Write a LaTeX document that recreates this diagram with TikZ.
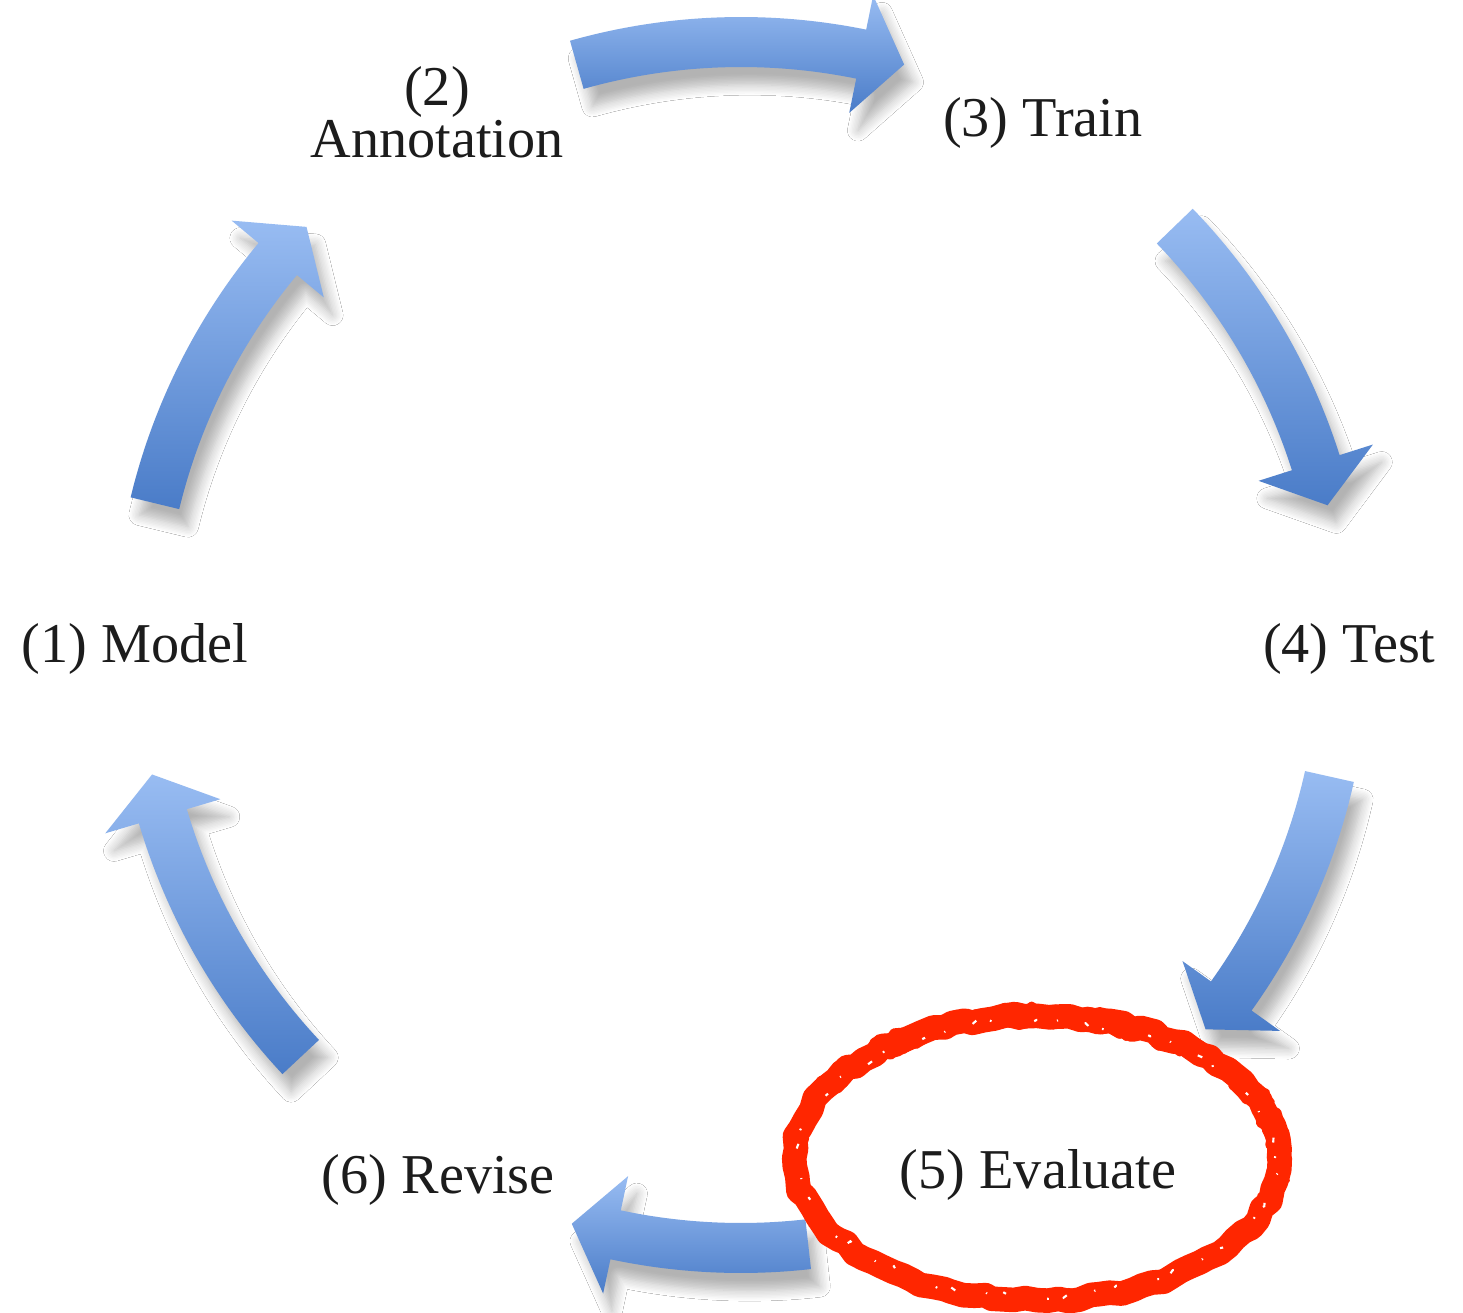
\documentclass[tikz,border=0pt]{standalone}
\usepackage{fontspec}
\setmainfont{Liberation Serif}
\usetikzlibrary{shadows.blur,decorations.pathmorphing}

\definecolor{arrowtop}{RGB}{152,188,242}
\definecolor{arrowbot}{RGB}{74,124,200}
\definecolor{markred}{RGB}{255,38,0}
\definecolor{labeltext}{RGB}{28,28,28}

% label font: 16pt with tight line spacing
\newcommand\stagefont{\fontsize{16}{14.8}\selectfont\lineskiplimit=-20pt\relax}

% curved block arrow on the cycle: name, tail angle, head-base angle, tip angle
\newcommand\cyclearrow[4]{%
  \path[arrowbody] (#2:5.78) arc[start angle=#2, end angle=#3, radius=5.78]
    -- (#3:5.43) -- (#4:6.03) -- (#3:6.63) -- (#3:6.28)
    arc[start angle=#3, end angle=#2, radius=6.28] -- cycle;
  \coordinate (#1) at ({(#2+#4)/2}:6.03);
}

\begin{document}
\begin{tikzpicture}[
  arrowbody/.style={top color=arrowtop, bottom color=arrowbot, draw=none,
    blur shadow={shadow xshift=2.5pt, shadow yshift=-5pt, shadow blur radius=3pt,
      shadow blur steps=8, shadow opacity=30}},
  steplabel/.style={font=\stagefont, text=labeltext, inner sep=0pt, outer sep=0pt},
  marker/.style={draw=markred, line width=7pt, line join=round, line cap=round,
    decorate, decoration={random steps, segment length=3pt, amplitude=0.7pt}},
  roughedge/.style={draw=markred, line width=2pt, line join=round, line cap=round,
    decorate, decoration={random steps, segment length=2pt, amplitude=1.3pt}},
  speckle/.style={draw=white, line width=0.6pt,
    dash pattern=on 0.5pt off 4pt on 1.4pt off 9pt on 0.3pt off 6pt on 0.9pt off 13pt,
    decorate, decoration={random steps, segment length=2.5pt, amplitude=1.2pt}}
]
\useasboundingbox[fill=white] (-7.41,-6.68) rectangle (7.22,6.45);

% the six stages
\node[steplabel, anchor=base west] (model) at (-7.19,-0.18) {(1) Model};
\node[steplabel, anchor=base, align=center] (annot) at (-3.04,4.87) {(2)\\Annotation};
\node[steplabel, anchor=base west] (train) at (2.02,5.08) {(3) Train};
\node[steplabel, anchor=base west] (test) at (5.22,-0.18) {(4) Test};
\node[steplabel, anchor=base west] (eval) at (1.59,-5.43) {(5) Evaluate};
\node[steplabel, anchor=base west] (revise) at (-4.19,-5.48) {(6) Revise};

% the cycle arrows between the stages
\cyclearrow{a23}{105.8}{78.5}{74.3}
\cyclearrow{a34}{44.0}{17.6}{13.4}
\cyclearrow{a45}{-12.6}{-35.6}{-39.6}
\cyclearrow{a56}{-83.6}{-102.0}{-106.3}
\cyclearrow{a61}{-136.9}{-163.5}{-167.6}
\cyclearrow{a12}{166.4}{140.2}{136.1}

% hand-drawn ring around the evaluation stage
\coordinate (ring) at (2.96,-5.13);
\draw[marker] (ring) ellipse[x radius=2.42, y radius=1.42];
\draw[roughedge] ([shift={(0.01,0.02)}]ring) ellipse[x radius=2.47, y radius=1.47];
\draw[roughedge] ([shift={(-0.01,-0.02)}]ring) ellipse[x radius=2.37, y radius=1.37];
\draw[speckle] (ring) ellipse[x radius=2.38, y radius=1.38];
\end{tikzpicture}
\end{document}
